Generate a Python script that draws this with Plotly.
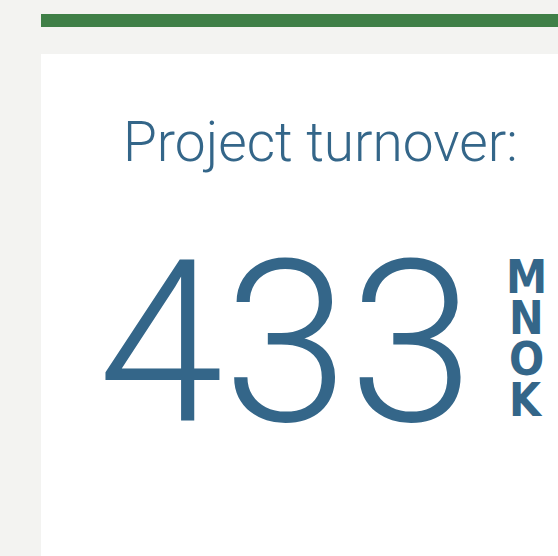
import plotly.graph_objects as go

# KPI values
title = "Project turnover:"
value = 433
unit = "MNOK"

TEXT = "#346689"
GREEN = "#3f7f47"
BG = "#f3f3f1"

W, H = 558, 556

fig = go.Figure()

# card decorations in pixel coordinates
fig.add_shape(type="rect", x0=41, x1=W, y0=14, y1=27, fillcolor=GREEN, line_width=0, layer="below")
fig.add_shape(type="rect", x0=41, x1=W, y0=54, y1=H, fillcolor="white", line_width=0, layer="below")

fig.add_annotation(x=320, y=142, text=title, showarrow=False, xanchor="center", yanchor="middle",
                   font=dict(family="Roboto", size=55, color=TEXT, weight=300))
fig.add_annotation(x=286, y=343, text=str(value), showarrow=False, xanchor="center", yanchor="middle",
                   font=dict(family="Roboto", size=226, color=TEXT, weight=300))

# stacked unit letters
for i, ch in enumerate(unit):
    fig.add_annotation(x=526, y=277 + i * 41, text=ch, showarrow=False, xanchor="center", yanchor="middle",
                       height=40, valign="middle",
                       font=dict(family="Liberation Sans Narrow, DejaVu Sans Condensed, Roboto",
                                 size=46, color=TEXT, weight=700))

fig.update_xaxes(range=[0, W], visible=False, fixedrange=True)
fig.update_yaxes(range=[H, 0], visible=False, fixedrange=True)
fig.update_layout(width=W, height=H, margin=dict(l=0, r=0, t=0, b=0),
                  paper_bgcolor=BG, plot_bgcolor=BG, showlegend=False)

fig.write_html("out.html", config={"displayModeBar": False},
               post_script="document.body.style.margin='0';")
